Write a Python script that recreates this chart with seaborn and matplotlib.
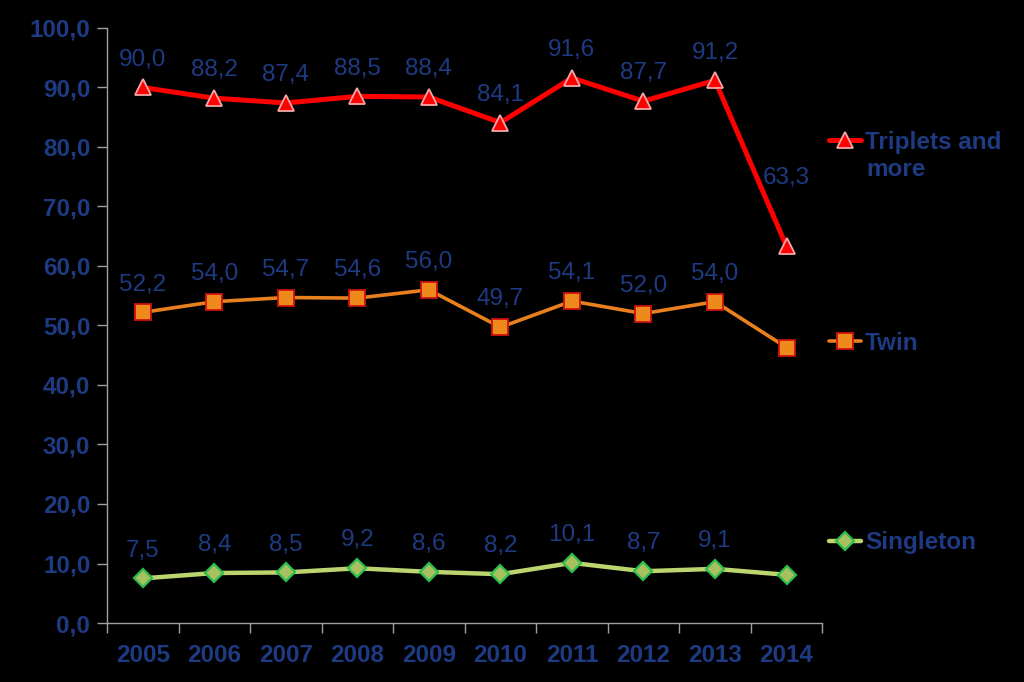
import numpy as np
import pandas as pd
import matplotlib
matplotlib.use("Agg")
import matplotlib.pyplot as plt
import seaborn as sns
from matplotlib.lines import Line2D

years = ["2005", "2006", "2007", "2008", "2009", "2010", "2011", "2012", "2013", "2014"]
triplets = [90.0, 88.2, 87.4, 88.5, 88.4, 84.1, 91.6, 87.7, 91.2, 63.3]
twin = [52.2, 54.0, 54.7, 54.6, 56.0, 49.7, 54.1, 52.0, 54.0, 46.3]
singleton = [7.5, 8.4, 8.5, 9.2, 8.6, 8.2, 10.1, 8.7, 9.1, 8.1]
yticks = [0, 10, 20, 30, 40, 50, 60, 70, 80, 90, 100]
twin_labels = [True] * 9 + [False]
single_labels = [True] * 9 + [False]

sns.set_style("dark")
plt.rcParams['font.family'] = ['Liberation Sans', 'DejaVu Sans']

TXT = "#1E3A82"
FS = 17.5
fig = plt.figure(figsize=(10.24, 6.82), dpi=100, facecolor="black")
ax = fig.add_axes([0.1045, 0.0865, 0.6985, 0.8725])
ax.set_facecolor("black")

x = np.arange(len(years))
series = [
    ("Triplets and", triplets, dict(color="#FF0000", lw=3.6, marker="^", ms=12, mfc="#FF0000", mec="#F4A7A7", mew=1.3), [True]*10),
    ("Twin", twin, dict(color="#E8801E", lw=2.6, marker="s", ms=11, mfc="#EE8A1C", mec="#D01010", mew=1.3), twin_labels),
    ("Singleton", singleton, dict(color="#BCD56E", lw=3.2, marker="D", ms=9, mfc="#A8C060", mec="#2DBE4E", mew=1.6), single_labels),
]

for name, vals, st, labs in series:
    df = pd.DataFrame({"x": x, "y": vals})
    sns.lineplot(data=df, x="x", y="y", ax=ax, color=st["color"], linewidth=st["lw"],
                 marker=st["marker"], markersize=st["ms"], markerfacecolor=st["mfc"],
                 markeredgecolor=st["mec"], markeredgewidth=st["mew"], legend=False)
    for i, (v, show) in enumerate(zip(vals, labs)):
        if not show:
            continue
        off = 20
        if name.startswith("Triplets") and i == 9:
            off = 49
        ax.annotate(f"{v:.1f}".replace(".", ","), (i, v), xytext=(0, off), textcoords="offset points",
                    ha="center", va="center", fontsize=FS, color=TXT)

ax.set_xlim(-0.5, len(years) - 0.5)
ax.set_ylim(0, 100)
ax.set_yticks(yticks)
ax.set_yticklabels([f"{t:.1f}".replace(".", ",") for t in yticks], fontsize=FS, fontweight="bold", color=TXT)
ax.set_xticks(np.arange(-0.5, len(years), 1.0))
ax.set_xticklabels([])
ax.set_xticks(x, minor=True)
ax.set_xticklabels(years, minor=True, fontsize=FS, fontweight="bold", color=TXT)
ax.tick_params(axis="x", which="major", length=7, color="#A0A0A0", width=1, direction="out", bottom=True)
ax.tick_params(axis="x", which="minor", length=0, pad=15, bottom=True)
ax.tick_params(axis="y", length=7, color="#A0A0A0", width=1, direction="out", left=True, pad=5)
ax.set_xlabel("")
ax.set_ylabel("")
ax.grid(False)
for s in ["top", "right"]:
    ax.spines[s].set_visible(False)
for s in ["left", "bottom"]:
    ax.spines[s].set_visible(True)
    ax.spines[s].set_color("#A0A0A0")
    ax.spines[s].set_linewidth(1)

# legend entries, one per series, placed at the right
leg_pos = [1 - 142 / 682, 1 - 343 / 682, 1 - 543 / 682]
for (name, vals, st, labs), ypos in zip(series, leg_pos):
    h = Line2D([], [], color=st["color"], lw=st["lw"], marker=st["marker"], markersize=st["ms"],
               markerfacecolor=st["mfc"], markeredgecolor=st["mec"], markeredgewidth=st["mew"])
    leg = fig.legend([h], [name], loc="center left", bbox_to_anchor=(0.81, ypos),
                     frameon=False, handlelength=1.3, handletextpad=0.17, borderpad=0,
                     borderaxespad=0, prop={"weight": "bold", "size": FS})
    for t in leg.get_texts():
        t.set_color(TXT)
    if name.startswith("Triplets"):
        fig.text(866 / 1024, 1 - 170 / 682, "more", ha="left", va="center",
                 fontsize=FS, fontweight="bold", color=TXT)

fig.savefig("out.png", dpi=100, facecolor="black")
